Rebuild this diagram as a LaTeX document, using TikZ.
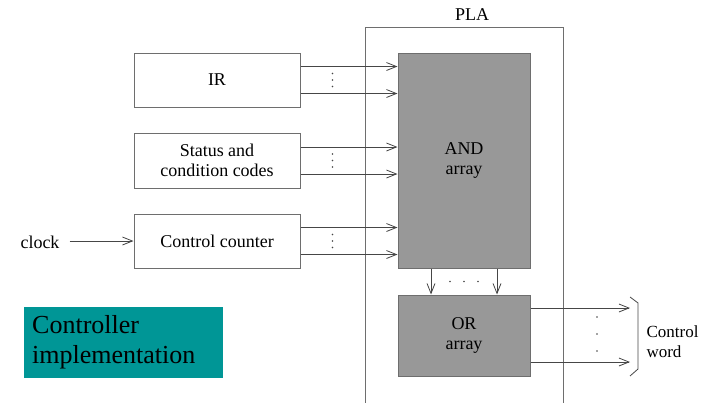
\documentclass[tikz,border=0pt]{standalone}
\usepackage{fontspec}
\setmainfont{Liberation Serif}
\newfontfamily\diagfont{Liberation Serif}
\usetikzlibrary{positioning,arrows.meta}
\definecolor{ctrlteal}{RGB}{0,150,150}
\definecolor{arraygray}{RGB}{152,152,152}
\definecolor{linegray}{RGB}{70,70,70}
\definecolor{boxgray}{RGB}{110,110,110}

\begin{document}
\begin{tikzpicture}[x=1pt, y=-1pt, node distance=25pt,
    >={Straight Barb[length=10pt,width=8pt]},
    every node/.style={font=\diagfont\fontsize{18}{20}\selectfont},
    inbox/.style={draw=boxgray, line width=1pt, fill=white, minimum width=166pt,
      minimum height=54pt, align=center, inner sep=0pt},
    arraybox/.style={draw=boxgray, line width=1pt, fill=arraygray,
      minimum width=132pt, align=center, inner sep=0pt},
    wire/.style={draw=linegray, line width=0.8pt},
    dot/.style={fill=linegray}
  ]
  \useasboundingbox (0,0) rectangle (712,402);
  \clip (0,0) rectangle (712,402);

  % PLA frame (open at the bottom)
  \node[draw=boxgray, line width=1pt, minimum width=198pt, minimum height=383pt,
    inner sep=0pt] (plabox) at (464,218.5) {};
  \node (pla) at (472,15) {PLA};

  % inputs
  \node[inbox] (ir) at (217,80) {IR};
  \node[inbox, minimum height=55pt] (status) [below=of ir] {Status and\\condition codes};
  \node[inbox] (counter) [below=of status] {Control counter};
  \node[inner xsep=10pt] (clock) at (40,242) {clock};

  % arrays
  \node[arraybox, minimum height=215pt] (andarr) at (464,160.5) {AND\\array};
  \node[arraybox, minimum height=81pt] (orarr) [below=26pt of andarr] {OR\\array};

  \draw[wire,->] (clock.east |- counter.west) -- (counter.west);
  \foreach \src in {ir,status,counter} {
    \draw[wire,->] ([yshift=13.5pt]\src.east) -- ([yshift=13.5pt]\src.east -| andarr.west);
    \draw[wire,->] ([yshift=-13.5pt]\src.east) -- ([yshift=-13.5pt]\src.east -| andarr.west);
    \foreach \d in {-6.5,0,6.5}
      \fill[dot] ([yshift=\d pt]\src.east) ++(32,0) circle (0.9pt);
  }

  \foreach \dx in {-33,33}
    \draw[wire,->] ([xshift=\dx pt]andarr.south) -- ([xshift=\dx pt]orarr.north);
  \foreach \dx in {-14,0,14}
    \fill[dot] ([xshift=\dx pt]andarr.south) ++(0,13) circle (0.9pt);

  % outputs
  \coordinate (cw1) at (630,308);
  \coordinate (cw2) at (630,362);
  \draw[wire,->] (orarr.east |- cw1) -- (cw1);
  \draw[wire,->] (orarr.east |- cw2) -- (cw2);
  \foreach \y in {317,334,351}
    \fill[dot] (597,\y) circle (0.9pt);
  \draw[wire] (630,297) -- (638,303) -- (638,369) -- (630,376);
  \node[anchor=west, align=left, font=\diagfont\fontsize{17}{20}\selectfont] (cword) at (643,342) {Control\\word};

  % caption
  \node[fill=ctrlteal, anchor=north west, minimum width=199pt, minimum height=71pt,
    text width=183pt, inner xsep=8pt, align=left,
    font=\diagfont\fontsize{26}{30}\selectfont] (caption) at (24,307) {Controller\\implementation};
\end{tikzpicture}
\end{document}
